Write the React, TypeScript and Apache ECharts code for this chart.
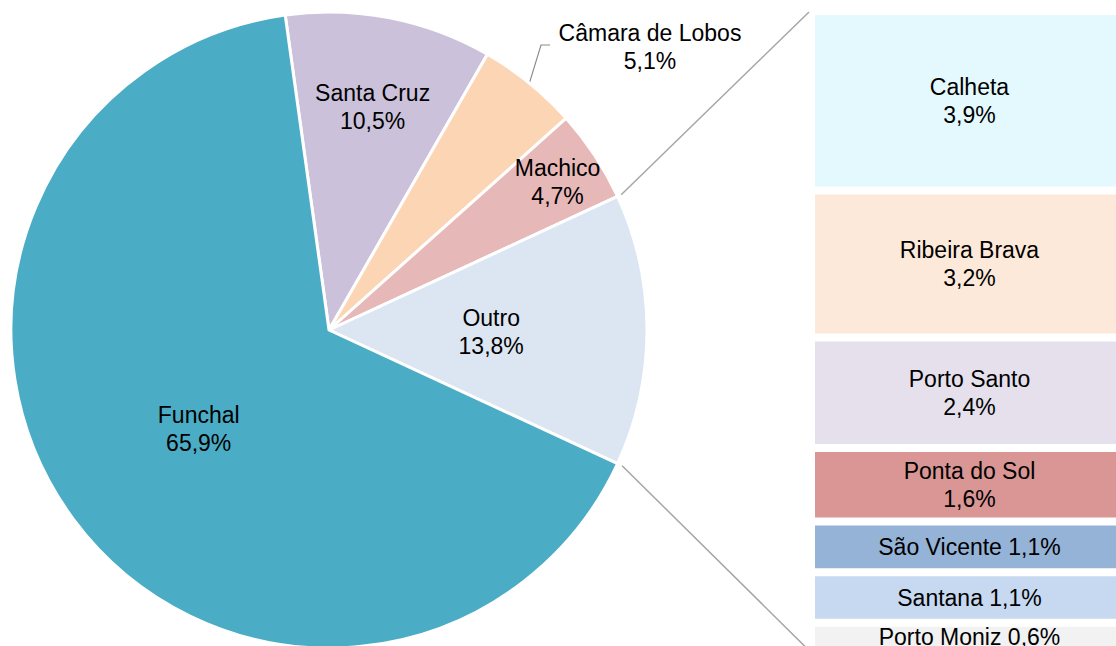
import React, { useEffect, useRef } from 'react';
import * as echarts from 'echarts';

// ---- Data ----
const pieNames = ['Santa Cruz', 'Câmara de Lobos', 'Machico', 'Outro', 'Funchal'];
const pieValues = [10.5, 5.1, 4.7, 13.8, 65.9];
const pieColors = ['#CCC1DA', '#FCD5B5', '#E6B9B8', '#DCE6F2', '#4BACC6'];

const barNames = ['Calheta', 'Ribeira Brava', 'Porto Santo', 'Ponta do Sol', 'São Vicente', 'Santana', 'Porto Moniz'];
const barValues = [3.9, 3.2, 2.4, 1.6, 1.1, 1.1, 0.6];
const barColors = ['#E4F9FE', '#FDE9D9', '#E5E0EC', '#D99694', '#95B3D7', '#C6D9F1', '#F2F2F2'];

// ---- Layout / style ----
const PIE_CX = 329;
const PIE_CY = 330;
const PIE_R = 318;
const OTHER_INDEX = 3;
const OUTSIDE_INDEX = 1;
const labelRadiusFrac = [0.72, 1, 0.86, 0.51, 0.51];
const LABEL_DY = 2;
const OUTSIDE_LABEL = { x: 650, y: 47 };

const BAR_LEFT = 811;
const BAR_TOP = 11;
const BAR_WIDTH = 317;
const PX_PER_PCT = 46;

const FONT = "'Liberation Sans', Arial, sans-serif";
const FONT_SIZE = 23;
const LINE_H = 28;

const fmt = (v: number) => v.toFixed(1).replace('.', ',') + '%';

const pieTotal = pieValues.reduce((a, b) => a + b, 0);
const cumBefore = (i: number) => pieValues.slice(0, i).reduce((a, b) => a + b, 0);
// clockwise-from-top angle where the first slice starts, so the "Outro" slice is centred at 3 o'clock
const startCw = 90 - (360 * (cumBefore(OTHER_INDEX) + pieValues[OTHER_INDEX] / 2)) / pieTotal;
const echartsStart = 90 - startCw;
const midCw = (i: number) => startCw + (360 * (cumBefore(i) + pieValues[i] / 2)) / pieTotal;
const edgeCw = (i: number) => startCw + (360 * cumBefore(i)) / pieTotal;
const polar = (deg: number, r: number): [number, number] => {
  const a = (deg * Math.PI) / 180;
  return [PIE_CX + r * Math.sin(a), PIE_CY - r * Math.cos(a)];
};

export default function App() {
  const ref = useRef<HTMLDivElement>(null);

  useEffect(() => {
    if (!ref.current) return;
    const chart = echarts.init(ref.current, undefined, { renderer: 'svg' });
    const barTotal = barValues.reduce((a, b) => a + b, 0);

    const topStart = polar(edgeCw(OTHER_INDEX), PIE_R + 4);
    const botStart = polar(edgeCw(OTHER_INDEX + 1), PIE_R + 5);
    const topEnd: [number, number] = [BAR_LEFT - 2, BAR_TOP + 1];
    const botEnd: [number, number] = [BAR_LEFT - 2, BAR_TOP + barTotal * PX_PER_PCT];

    const textStyle = {
      color: '#000',
      fontFamily: FONT,
      fontSize: FONT_SIZE,
      lineHeight: LINE_H,
    };

    chart.setOption({
      animation: false,
      backgroundColor: '#ffffff',
      grid: {
        left: BAR_LEFT,
        top: BAR_TOP,
        width: BAR_WIDTH,
        height: barTotal * PX_PER_PCT,
        containLabel: false,
        outerBoundsMode: 'none',
      },
      xAxis: { type: 'category', data: ['x'], show: false },
      yAxis: { type: 'value', min: 0, max: barTotal, inverse: true, show: false },
      graphic: [
        {
          type: 'line',
          shape: { x1: topStart[0], y1: topStart[1], x2: topEnd[0], y2: topEnd[1] },
          style: { stroke: '#A6A6A6', lineWidth: 1.5 },
        },
        {
          type: 'line',
          shape: { x1: botStart[0], y1: botStart[1], x2: botEnd[0], y2: botEnd[1] },
          style: { stroke: '#A6A6A6', lineWidth: 1.5 },
        },
      ],
      series: [
        {
          type: 'pie',
          center: [PIE_CX, PIE_CY],
          radius: PIE_R,
          startAngle: echartsStart,
          clockwise: true,
          avoidLabelOverlap: false,
          itemStyle: { borderColor: '#ffffff', borderWidth: 3 },
          data: pieNames.map((n, i) => ({
            name: n,
            value: pieValues[i],
            itemStyle: { color: pieColors[i] },
            label: i === OUTSIDE_INDEX ? { position: 'outside' } : { position: 'inside' },
            labelLine: { show: i === OUTSIDE_INDEX, lineStyle: { color: '#8C8C8C', width: 1.2 } },
          })),
          label: {
            show: true,
            ...textStyle,
            formatter: (p: any) => `${p.name}\n${fmt(p.value)}`,
          },
          labelLayout: (params: any) => {
            const i = params.dataIndex;
            if (i === OUTSIDE_INDEX) {
              const edge = polar(midCw(i), PIE_R);
              return {
                x: OUTSIDE_LABEL.x,
                y: OUTSIDE_LABEL.y,
                align: 'center',
                verticalAlign: 'middle',
                labelLinePoints: [
                  edge,
                  [OUTSIDE_LABEL.x - 109, OUTSIDE_LABEL.y - 2],
                  [OUTSIDE_LABEL.x - 100, OUTSIDE_LABEL.y - 2],
                ],
              };
            }
            const p = polar(midCw(i), PIE_R * labelRadiusFrac[i]);
            return { x: p[0], y: p[1] + LABEL_DY, align: 'center', verticalAlign: 'middle' };
          },
        },
        ...barNames.map((n, i) => ({
          type: 'bar',
          name: n,
          stack: 'other',
          barWidth: '100%',
          data: [barValues[i]],
          itemStyle: { color: barColors[i], borderColor: '#ffffff', borderWidth: 4 },
          label: {
            show: true,
            position: 'inside',
            ...textStyle,
            formatter: (p: any) =>
              barValues[i] >= 1.5 ? `${n}\n${fmt(p.value)}` : `${n} ${fmt(p.value)}`,
          },
        })),
      ],
    });

    return () => chart.dispose();
  }, []);

  return (
    <div
      ref={ref}
      style={{ position: 'fixed', left: 0, top: 0, width: 1116, height: 646, background: '#fff' }}
    />
  );
}
